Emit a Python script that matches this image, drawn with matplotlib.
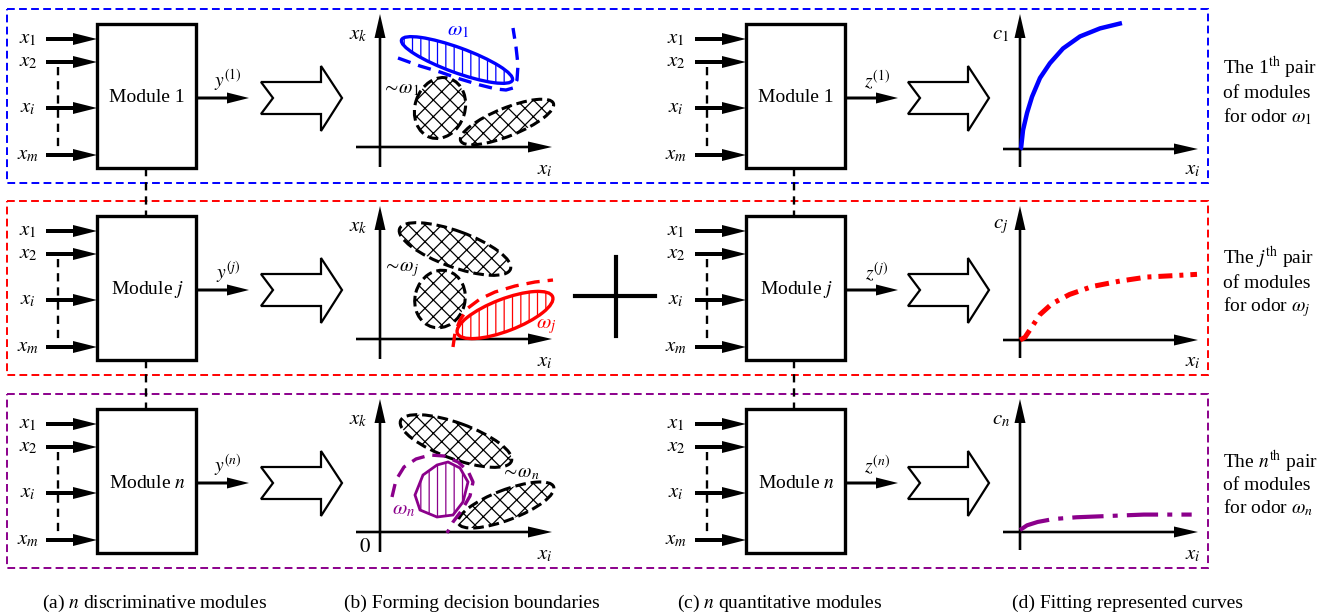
import matplotlib
matplotlib.use('Agg')
import matplotlib.pyplot as plt
from matplotlib.patches import Ellipse, Polygon, Rectangle

plt.rcParams['mathtext.fontset'] = 'stix'
plt.rcParams['font.family'] = ['Liberation Serif', 'DejaVu Serif']
plt.rcParams['hatch.linewidth'] = 0.9

# ---------------- data ----------------
row_colors = ['#0000ff', '#ff0000', '#8b008b']
module_names = ['Module 1', 'Module $j$', 'Module $n$']
y_outputs = ['$y^{(1)}$', '$y^{(j)}$', '$y^{(n)}$']
z_outputs = ['$z^{(1)}$', '$z^{(j)}$', '$z^{(n)}$']
input_labels = ['$x_1$', '$x_2$', '$x_i$', '$x_m$']
class_labels = [r'$\omega_1$', r'$\omega_j$', r'$\omega_n$']
other_labels = [r'$\sim\!\omega_1$', r'$\sim\!\omega_j$', r'$\sim\!\omega_n$']
curve_labels = ['$c_1$', '$c_j$', '$c_n$']
pair_texts = [
    ['The 1$^{\\rm th}$ pair', 'of modules', r'for odor $\omega_1$'],
    ['The $j^{\\rm th}$ pair', 'of modules', r'for odor $\omega_j$'],
    ['The $n^{\\rm th}$ pair', 'of modules', r'for odor $\omega_n$'],
]
captions = ['(a) $n$ discriminative modules', '(b) Forming decision boundaries',
            '(c) $n$ quantitative modules', '(d) Fitting represented curves']

# fitted curves (normalised: x in [0,1] of axis length, c in [0,1] of axis height)
curve1_x = [0, 0.006, 0.017, 0.04, 0.068, 0.113, 0.169, 0.243, 0.339, 0.452, 0.576]
curve1_c = [0, 0.007, 0.14, 0.27, 0.39, 0.53, 0.64, 0.75, 0.84, 0.90, 0.94]
curvej_x = [0, 0.028, 0.068, 0.113, 0.18, 0.28, 0.41, 0.565, 0.718, 0.864, 1.0]
curvej_c = [0, 0.02, 0.10, 0.19, 0.27, 0.34, 0.40, 0.44, 0.47, 0.48, 0.49]
curven_x = [0, 0.04, 0.10, 0.19, 0.32, 0.51, 0.70, 0.97]
curven_c = [0.015, 0.05, 0.075, 0.097, 0.11, 0.12, 0.13, 0.13]

# ---------------- figure ----------------
W, H = 1323, 614
fig = plt.figure(figsize=(W / 100, H / 100), dpi=100)
ax = fig.add_axes([0, 0, 1, 1])
ax.set_xlim(0, W)
ax.set_ylim(H, 0)
ax.axis('off')

row_off = [0, 192, 385]
curve_axis_y = [149, 340, 532]


def arrow(x0, y0, x1, y1, w, hw, hl, color='k'):
    ax.arrow(x0, y0, x1 - x0, y1 - y0, width=w, head_width=hw, head_length=hl,
             length_includes_head=True, fc=color, ec=color, lw=0)


def chevron(x0, yc):
    pts = [(0, -16), (60, -16), (60, -32), (81, 0), (60, 33), (60, 16), (0, 16), (12, 0)]
    ax.add_patch(Polygon([(x0 + a, yc + b) for a, b in pts], closed=True,
                         fc='white', ec='black', lw=1.6, joinstyle='miter'))


def module(x0, dy, name, outlabel, inx_label):
    ax.add_patch(Rectangle((x0, 24 + dy), 99, 144, fc='white', ec='black', lw=2.4))
    ax.text(x0 + 50, 98 + dy, name, ha='center', va='center', fontsize=14)
    for lab, yy in zip(input_labels, [39, 62, 108, 155]):
        arrow(x0 - 51, yy + dy, x0, yy + dy, 4, 12, 24)
        ax.text(inx_label, yy + dy, lab, ha='center', va='center', fontsize=15)
    ax.plot([x0 - 39, x0 - 39], [67 + dy, 148 + dy], color='k', lw=1.7,
            dashes=(3.5, 2.5))
    arrow(x0 + 99, 98 + dy, x0 + 152, 98 + dy, 3, 11, 22)
    ax.text(x0 + 131, 80 + dy, outlabel, ha='center', va='center', fontsize=14)


for r in range(3):
    dy = row_off[r]
    col = row_colors[r]
    ax.add_patch(Rectangle((7, 9 + dy), 1201, 174, fill=False, ec=col, lw=1.4,
                           ls=(0, (4, 2.2))))
    module(97, dy, module_names[r], y_outputs[r], 28)
    module(746, dy, module_names[r], z_outputs[r], 676)
    chevron(261, 98 + dy)
    chevron(908, 98 + dy)

    # scatter axes
    arrow(380, 167 + dy, 380, 14 + dy, 2.6, 11, 24)
    arrow(356, 147 + dy, 552, 147 + dy, 2.6, 11, 24)
    ax.text(358, 35 + dy, '$x_k$', ha='center', va='center', fontsize=15)
    ax.text(545, 170 + dy, '$x_i$', ha='center', va='center', fontsize=15)

    # curve axes
    cy = curve_axis_y[r]
    arrow(1020, cy + 18, 1020, 14 + dy, 2.6, 11, 24)
    arrow(1003, cy, 1198, cy, 2.6, 11, 24)
    ax.text(1001, 35 + dy, curve_labels[r], ha='center', va='center', fontsize=15)
    ax.text(1193, 170 + dy, '$x_i$', ha='center', va='center', fontsize=15)

# connectors between rows
for xx in (146, 794):
    for ya, yb in ((168, 216), (360, 409)):
        ax.plot([xx, xx], [ya, yb], color='k', lw=1.7, dashes=(3.5, 2.5))

# ---- decision boundary panels ----
dash_k = dict(fc='white', ec='black', lw=2.2, ls=(0, (3.5, 1.6)), hatch='xx')

# row 1
ax.add_patch(Ellipse((440, 108), 62, 50, angle=-72, **dash_k))
ax.add_patch(Ellipse((507, 122), 100, 28, angle=-22, **dash_k))
ax.add_patch(Ellipse((457, 60), 118, 25, angle=20, fc='white', ec=row_colors[0],
                     lw=2.4, hatch='||'))
b1x = [398, 420, 440, 460, 480, 496, 506, 513, 517, 518, 516, 513]
b1y = [58, 66, 72, 79, 85, 89, 90, 88, 80, 65, 47, 28]
ax.plot(b1x, b1y, color=row_colors[0], lw=2.4, dashes=(4, 2.4))
ax.text(458, 31, class_labels[0], color=row_colors[0], ha='center', va='center', fontsize=15)
ax.text(401, 90, other_labels[0], ha='center', va='center', fontsize=14)

# row 2
ax.add_patch(Ellipse((455, 249), 118, 36, angle=20, **dash_k))
ax.add_patch(Ellipse((440, 299), 58, 50, angle=-75, **dash_k))
ax.add_patch(Ellipse((505, 315), 102, 32, angle=-21, fc='white',
                     ec=row_colors[1], lw=2.4, hatch='||'))
b2x = [453, 455, 460, 468, 480, 495, 515, 535, 553]
b2y = [347, 333, 320, 308, 299, 292, 286, 282, 280]
ax.plot(b2x, b2y, color=row_colors[1], lw=2.4, dashes=(4, 2.4))
ax.text(546, 326, class_labels[1], color=row_colors[1], ha='center', va='center', fontsize=15)
ax.text(401, 270, other_labels[1], ha='center', va='center', fontsize=14)

# row 3
ax.add_patch(Ellipse((456, 441), 118, 36, angle=20, **dash_k))
ax.add_patch(Ellipse((506, 505), 102, 30, angle=-21, **dash_k))
poly_n = [(415, 495), (423, 475), (437, 465), (448, 462), (460, 468), (468, 482),
          (463, 502), (453, 515), (437, 517), (420, 510)]
ax.add_patch(Polygon(poly_n, closed=True, fc='white', ec=row_colors[2], lw=2.0,
                     hatch='||'))
b3x = [392, 396, 404, 416, 430, 444, 458, 468, 473, 470, 462, 453, 447]
b3y = [497, 480, 467, 459, 455, 456, 462, 471, 482, 496, 510, 522, 533]
ax.plot(b3x, b3y, color=row_colors[2], lw=2.4, dashes=(4, 2.4))
ax.text(404, 510, class_labels[2], color=row_colors[2], ha='center', va='center', fontsize=15)
ax.text(520, 473, other_labels[2], ha='center', va='center', fontsize=14)
ax.text(365, 548, '$0$', ha='center', va='center', fontsize=15)

# plus sign
ax.plot([575, 655], [296, 296], color='k', lw=3)
ax.plot([616, 616], [257, 336], color='k', lw=3)


# ---- fitted curves in inset axes ----
def curve_axes(y0):
    a = fig.add_axes([1020 / W, (H - y0) / H, 177 / W, 134 / H])
    a.set_xlim(0, 1)
    a.set_ylim(0, 1)
    a.axis('off')
    a.patch.set_alpha(0)
    return a


a1 = curve_axes(curve_axis_y[0])
a1.plot(curve1_x, curve1_c, color=row_colors[0], lw=3.2, clip_on=False,
        solid_capstyle='butt', solid_joinstyle='round')
a2 = curve_axes(curve_axis_y[1])
a2.plot(curvej_x, curvej_c, color=row_colors[1], lw=3.6, clip_on=False,
        dashes=(2.8, 1.4, 0.8, 1.4))
a3 = curve_axes(curve_axis_y[2])
a3.plot(curven_x, curven_c, color=row_colors[2], lw=3.0, clip_on=False,
        dashes=(7.5, 2.2, 1.2, 2.2))

# ---- right side texts ----
text_y = [[68, 93, 117], [258, 283, 307], [462, 485, 508]]
for r in range(3):
    for t, yy in zip(pair_texts[r], text_y[r]):
        ax.text(1223, yy, t, ha='left', va='center', fontsize=14)

# ---- captions ----
for t, xx in zip(captions, [155, 472, 780, 1127]):
    ax.text(xx, 603, t, ha='center', va='center', fontsize=14)

fig.savefig('out.png', dpi=100)
